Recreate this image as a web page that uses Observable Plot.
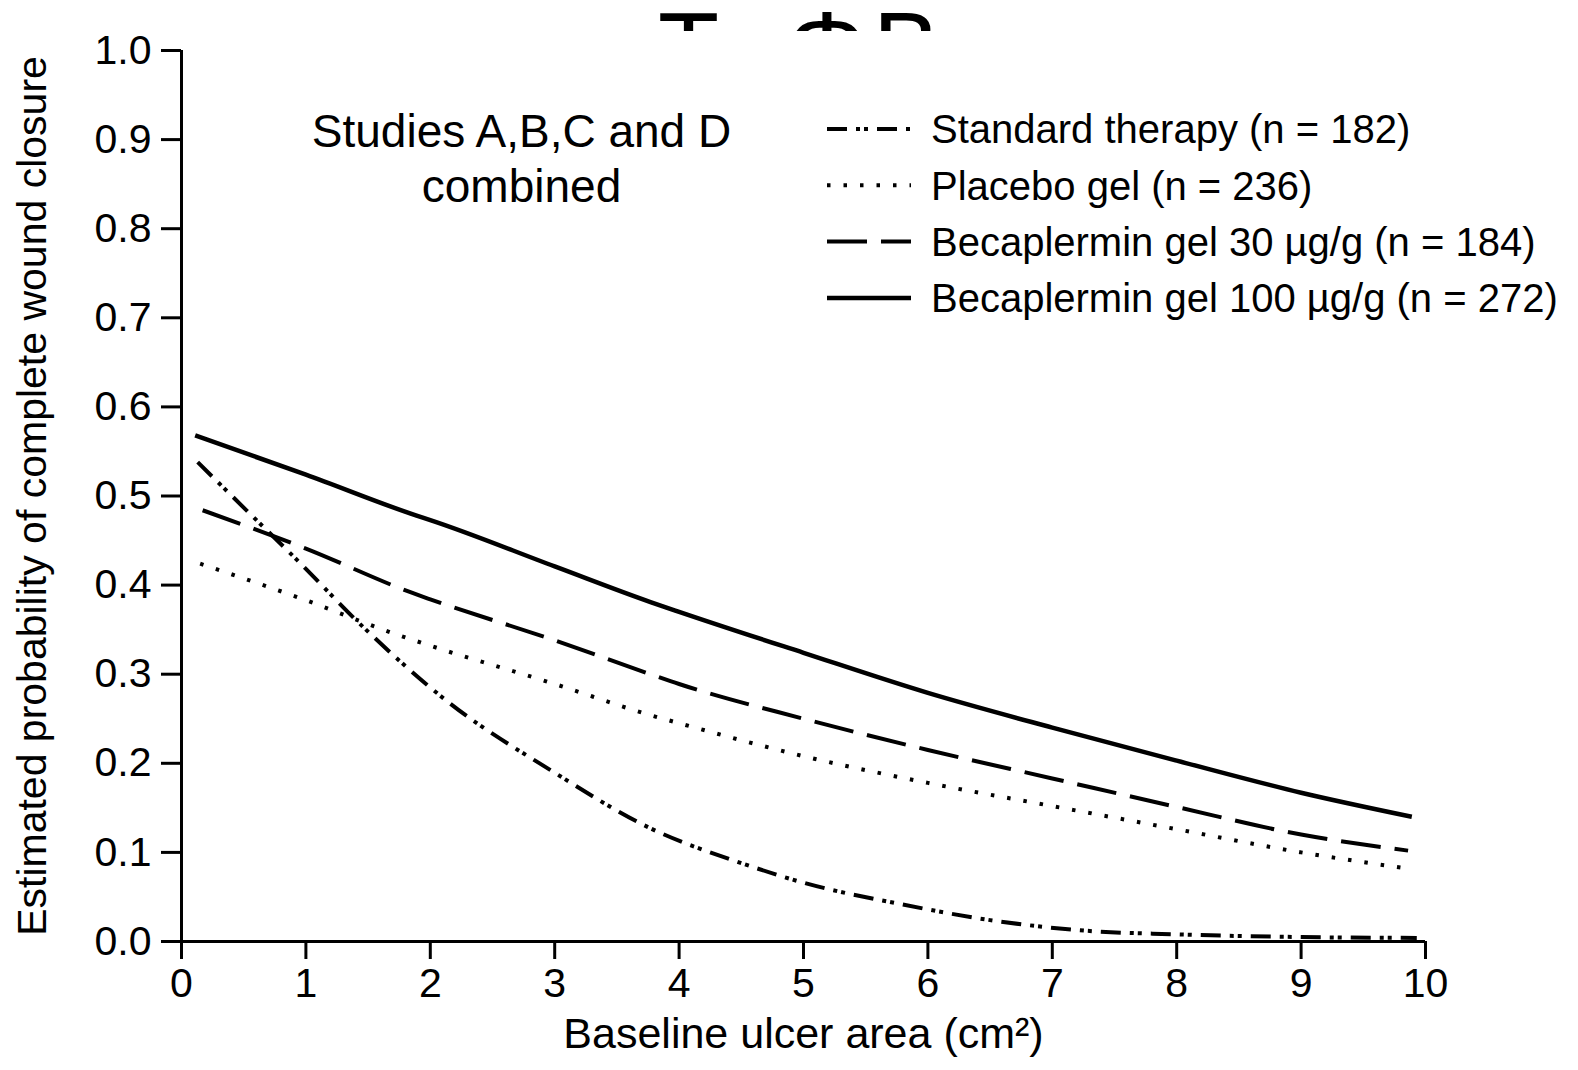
<!DOCTYPE html>
<html><head><meta charset="utf-8">
<script src="https://cdn.jsdelivr.net/npm/d3@7"></script>
<script src="https://cdn.jsdelivr.net/npm/@observablehq/plot@0.6"></script>
<style>
body{margin:0;background:#fff;font-family:"Liberation Sans",Arial,sans-serif;}
#wrap{position:relative;width:1578px;height:1070px;overflow:hidden;}
#title{position:absolute;left:0;top:0;width:1578px;height:31px;overflow:hidden;}
#title span{position:absolute;top:-3px;font-size:100px;line-height:100px;color:#000;}
#legend{position:absolute;left:0;top:0;}
</style></head><body>
<div id="wrap"><div id="chart"></div><div id="title"></div><svg id="legend" width="1578" height="360"></svg></div>
<script>
// ---- data ----
const seriesNames = ["Standard therapy (n = 182)", "Placebo gel (n = 236)", "Becaplermin gel 30 \u00b5g/g (n = 184)", "Becaplermin gel 100 \u00b5g/g (n = 272)"];
const xStandard = [0.13, 0.5, 0.93, 1.46, 2.16, 2.97, 3.77, 4.5, 5, 5.78, 6.5, 7.28, 8, 9, 9.93];
const yStandard = [0.538, 0.487, 0.428, 0.353, 0.267, 0.192, 0.127, 0.088, 0.066, 0.042, 0.024, 0.012, 0.008, 0.005, 0.004];
const xPlacebo = [0.15, 1, 1.68, 2, 3, 3.77, 4, 5, 6, 7, 8, 9, 9.8];
const yPlacebo = [0.424, 0.383, 0.347, 0.332, 0.289, 0.254, 0.245, 0.208, 0.178, 0.152, 0.126, 0.100, 0.083];
const xBec30 = [0.17, 1, 1.84, 2, 3, 3.77, 4, 5, 6, 7, 8, 9, 9.86];
const yBec30 = [0.484, 0.441, 0.392, 0.384, 0.338, 0.300, 0.289, 0.250, 0.215, 0.183, 0.151, 0.120, 0.102];
const xBec100 = [0.11, 1, 1.89, 2, 3, 3.77, 4, 5, 6, 7, 8, 9, 9.89];
const yBec100 = [0.568, 0.524, 0.478, 0.473, 0.421, 0.381, 0.370, 0.324, 0.279, 0.240, 0.203, 0.167, 0.140];
const xTicks = [0, 1, 2, 3, 4, 5, 6, 7, 8, 9, 10];
const yTicks = [0, 0.1, 0.2, 0.3, 0.4, 0.5, 0.6, 0.7, 0.8, 0.9, 1.0];
const xLabel = "Baseline ulcer area (cm\u00b2)";
const yLabel = "Estimated probability of complete wound closure";
const annotation = ["Studies A,B,C and D", "combined"];
const titleGlyphs = ["T", "\u03a6", "B"];

// ---- styles ----
const dashes = ["20,9,4,4,4,9", "3.5,13", "40,14", null];
const widths = [4, 4, 4, 4.5];

const toRows = (xs, ys) => xs.map((x, i) => ({x, y: ys[i]}));
const series = [toRows(xStandard, yStandard), toRows(xPlacebo, yPlacebo), toRows(xBec30, yBec30), toRows(xBec100, yBec100)];

const font = "Liberation Sans, Arial, Helvetica, sans-serif";
const chart = Plot.plot({
  width: 1578, height: 1070,
  marginLeft: 181, marginRight: 153, marginTop: 50, marginBottom: 129,
  x: {domain: [0, 10]},
  y: {domain: [0, 1]},
  style: {fontFamily: font, fontSize: "40px", color: "black", background: "white"},
  marks: [
    Plot.axisY({ticks: yTicks, tickFormat: d3.format(".1f"), tickSize: 20, tickPadding: 10, strokeWidth: 3, label: null, fontSize: 41}),
    Plot.axisX({ticks: xTicks, tickFormat: d => String(d), tickSize: 18, tickPadding: 8, strokeWidth: 3, label: null, fontSize: 41}),
    Plot.ruleX([0], {y1: 0, y2: 1, strokeWidth: 3}),
    Plot.ruleY([0], {x1: 0, x2: 10, strokeWidth: 3}),
    ...series.map((d, i) => Plot.line(d, {x: "x", y: "y", curve: "monotone-x", stroke: "black", strokeWidth: widths[i], strokeDasharray: dashes[i] || undefined, strokeLinecap: "butt"})),
    Plot.text([xLabel], {frameAnchor: "bottom", dy: 106, textAnchor: "middle", fontSize: 43}),
    Plot.text([yLabel], {frameAnchor: "left", dx: -149, rotate: -90, textAnchor: "middle", fontSize: 41}),
    Plot.text([annotation.join("\n")], {frameAnchor: "top-left", dx: 340, dy: 106, textAnchor: "middle", lineAnchor: "middle", lineHeight: 1.2, fontSize: 46})
  ]
});
document.getElementById("chart").appendChild(chart);

// ---- clipped title ----
const titleLeft = [658, 787, 873];
const t = d3.select("#title");
titleGlyphs.forEach((g, i) => t.append("span").style("left", titleLeft[i] + "px").text(g));

// ---- legend ----
const lg = d3.select("#legend");
seriesNames.forEach((name, i) => {
  const cy = 129 + i * 56.3;
  const ln = lg.append("line").attr("x1", 827).attr("x2", 911).attr("y1", cy).attr("y2", cy)
    .attr("stroke", "black").attr("stroke-width", widths[i]);
  if (dashes[i]) ln.attr("stroke-dasharray", dashes[i]);
  lg.append("text").attr("x", 931).attr("y", cy).attr("dy", "0.36em")
    .attr("font-family", font).attr("font-size", 40).text(name);
});
</script>
</body></html>
